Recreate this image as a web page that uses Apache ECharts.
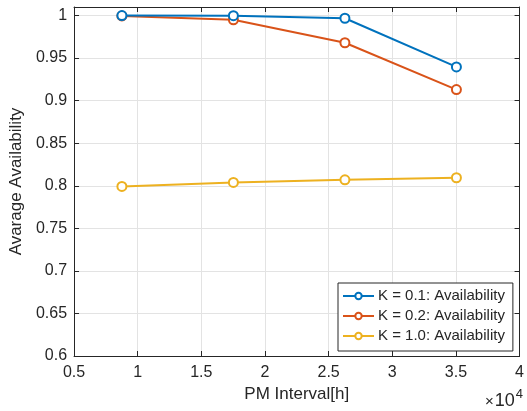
<!DOCTYPE html>
<html>
<head>
<meta charset="utf-8">
<script src="https://cdn.jsdelivr.net/npm/echarts@6/dist/echarts.min.js"></script>
<style>
  html, body { margin: 0; padding: 0; background: #fff; }
  #chart { width: 527px; height: 411px; }
</style>
</head>
<body>
<div id="chart"></div>
<script>
// PM interval in hours (1, 2, 3, 4 years)
const pmInterval = [8760, 17520, 26280, 35040];
// Average availability for each degradation factor K
const availK01 = [0.9999, 0.9998, 0.9968, 0.9396];
const availK02 = [0.9995, 0.9950, 0.9680, 0.9130];
const availK10 = [0.7992, 0.8039, 0.8070, 0.8094];
const seriesNames = ['K = 0.1: Availability', 'K = 0.2: Availability', 'K = 1.0: Availability'];
const seriesColors = ['#0072BD', '#D95319', '#EDB120'];

const FONT = '"Liberation Sans", Arial, Helvetica, sans-serif';
const AXIS_COLOR = '#262626';
const GRID_COLOR = '#e3e3e3';

function pairs(ys) { return pmInterval.map((x, i) => [x, ys[i]]); }

const chart = echarts.init(document.getElementById('chart'), null, { renderer: 'canvas' });

const tickStyle = { show: true, inside: true, length: 5, lineStyle: { color: AXIS_COLOR, width: 1 } };
const lineStyleAxis = { show: true, onZero: false, lineStyle: { color: AXIS_COLOR, width: 1 } };

const option = {
  animation: false,
  backgroundColor: '#ffffff',
  grid: { left: 73, right: 3, top: 7, bottom: 55, containLabel: false },
  xAxis: [
    {
      type: 'value', min: 5000, max: 40000, interval: 5000,
      name: 'PM Interval[h]', nameLocation: 'middle', nameGap: 25,
      nameTextStyle: { fontFamily: FONT, fontSize: 17, color: AXIS_COLOR },
      axisLine: lineStyleAxis, axisTick: tickStyle,
      axisLabel: { margin: 9, fontFamily: FONT, fontSize: 16, color: AXIS_COLOR,
        formatter: v => String(+(v / 10000).toFixed(1)) },
      splitLine: { show: true, lineStyle: { color: GRID_COLOR, width: 1 } }
    },
    {
      type: 'value', position: 'top', min: 5000, max: 40000, interval: 5000,
      axisLine: lineStyleAxis, axisTick: tickStyle,
      axisLabel: { show: false }, splitLine: { show: false }
    }
  ],
  yAxis: [
    {
      type: 'value', min: 0.6, max: 1.01, interval: 0.05,
      name: 'Avarage Availability', nameLocation: 'middle', nameGap: 43, nameRotate: 90,
      nameTextStyle: { fontFamily: FONT, fontSize: 17, color: AXIS_COLOR },
      axisLine: lineStyleAxis, axisTick: tickStyle,
      axisLabel: { margin: 7, fontFamily: FONT, fontSize: 16, color: AXIS_COLOR,
        showMaxLabel: false, formatter: v => String(+v.toFixed(2)) },
      splitLine: { show: true, lineStyle: { color: GRID_COLOR, width: 1 } }
    },
    {
      type: 'value', position: 'right', min: 0.6, max: 1.01, interval: 0.05,
      axisLine: lineStyleAxis, axisTick: tickStyle,
      axisLabel: { show: false }, splitLine: { show: false }
    }
  ],
  legend: {
    orient: 'vertical', left: 338, top: 283,
    padding: [3, 8, 5, 4], itemGap: 0, itemWidth: 31, itemHeight: 8,
    backgroundColor: '#ffffff', borderColor: AXIS_COLOR, borderWidth: 1,
    textStyle: { fontFamily: FONT, fontSize: 15, color: AXIS_COLOR, lineHeight: 20, padding: [0, 0, 0, -1] },
    data: seriesNames
  },
  graphic: [
    {
      type: 'text', right: 4, bottom: 1,
      style: {
        text: '{x|×}{t|10}{s|4}', fill: AXIS_COLOR,
        rich: {
          x: { fontFamily: FONT, fontSize: 15, fill: AXIS_COLOR, verticalAlign: 'bottom', padding: [0, 1, 1, 0] },
          t: { fontFamily: FONT, fontSize: 18, fill: AXIS_COLOR, verticalAlign: 'bottom' },
          s: { fontFamily: FONT, fontSize: 13, fill: AXIS_COLOR, verticalAlign: 'top', padding: [0, 0, 9, 1] }
        }
      }
    }
  ],
  series: [availK01, availK02, availK10].map((ys, i) => ({
    name: seriesNames[i], type: 'line', data: pairs(ys),
    symbol: 'circle', symbolSize: 9, showSymbol: true,
    lineStyle: { color: seriesColors[i], width: 2 },
    itemStyle: { color: '#ffffff', borderColor: seriesColors[i], borderWidth: 2 },
    emphasis: { disabled: true }, z: 3 + (2 - i)
  }))
};

chart.setOption(option);
</script>
</body>
</html>
